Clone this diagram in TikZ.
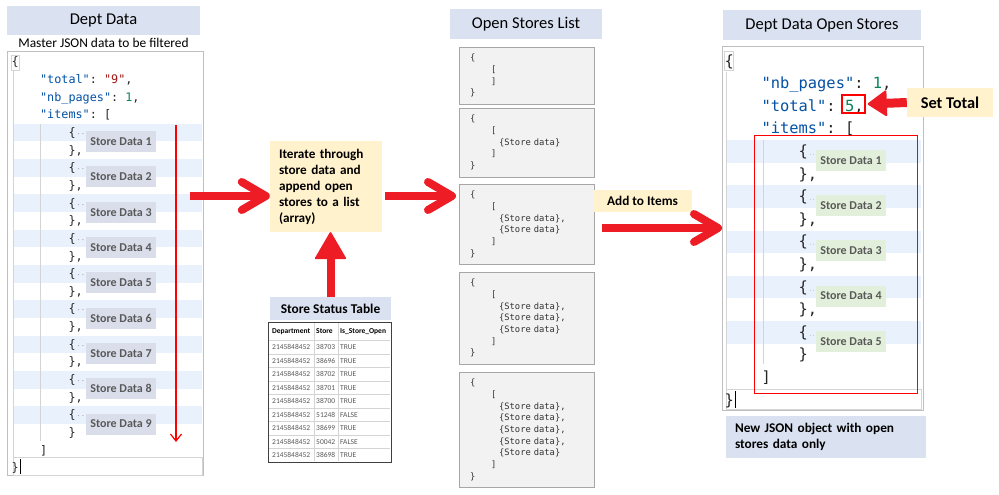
\documentclass[tikz,border=0pt]{standalone}
\usepackage{fontspec}
\setmainfont{Carlito}
\setmonofont{DejaVu Sans Mono}
\usetikzlibrary{arrows.meta, positioning, calc}

\definecolor{hdrblue}{HTML}{DAE1F0}
\definecolor{notebeige}{HTML}{FFF2CC}
\definecolor{stripe}{HTML}{E9F1FC}
\definecolor{sdfill}{HTML}{D9DEEA}
\definecolor{sgfill}{HTML}{E2EFDA}
\definecolor{sdtext}{HTML}{595959}
\definecolor{boxfill}{HTML}{F2F2F2}
\definecolor{boxline}{HTML}{A6A6A6}
\definecolor{panelline}{HTML}{BFBFBF}
\definecolor{guideline}{HTML}{D4D4D4}
\definecolor{keyblue}{HTML}{0451A5}
\definecolor{strred}{HTML}{A31515}
\definecolor{numgreen}{HTML}{098658}
\definecolor{arrowred}{HTML}{EE1C25}
\definecolor{dotgray}{HTML}{9A9A9A}

\newcommand{\jk}[1]{\textcolor{keyblue}{"#1"}}
\newcommand{\cind}[1]{\hspace*{#1\fontcharwd\font`0}}
\newcommand{\fold}[1]{\kern1pt{\fontsize{#1}{#1}\selectfont\textcolor{dotgray}{··}}}
\newcommand{\lvA}{\hspace*{10.6pt}}
\newcommand{\lvB}{\hspace*{31.5pt}}
\newcommand{\sdata}{\hspace*{39.6pt}\{Store data\}}

\begin{document}
\begin{tikzpicture}[x=1pt, y=-1pt,
        hdr/.style={fill=hdrblue, inner sep=0pt, font=\fontsize{16.5}{18}\selectfont},
        tag/.style={fill=notebeige, inner sep=0pt, font=\fontsize{13.3}{16}\selectfont\bfseries},
        panel/.style={draw=panelline, line width=1.2pt, fill=white, inner sep=0pt, anchor=north west},
        json/.style={anchor=north west, inner sep=0pt, align=left, text=black!85},
        codebox/.style={draw=boxline, fill=boxfill, line width=1pt, anchor=north west,
                inner xsep=0pt, inner ysep=5pt, text width=135pt, align=left, text=black!80,
                font=\ttfamily\fontsize{8.8}{11.7}\selectfont},
        sdgray/.style={fill=sdfill, text=sdtext, inner sep=0pt, minimum width=70pt,
                minimum height=21pt, font=\fontsize{12}{12}\selectfont\bfseries},
        sdgreen/.style={sdgray, fill=sgfill},
        guide/.style={draw=guideline, line width=0.8pt},
        scan/.style={draw=red, line width=1.2pt, -{Straight Barb[length=7pt, width=11pt]}},
        bigarrow/.style={draw=arrowred, line width=8pt, -{Straight Barb[length=24pt, width=28pt, round]}},
        fatarrow/.style={draw=arrowred, line width=8pt,
                -{Triangle[length=28pt, width=32pt, line width=2pt, round]}},
        cell/.style={inner sep=0pt, anchor=west, font=\fontsize{7.5}{8}\selectfont, text=sdtext}
        ]
        \fill[white] (0,0) rectangle (999,495);
        \useasboundingbox (0,0) rectangle (999,495);

        % Dept Data
        \node[hdr, minimum width=193pt, minimum height=29pt] (depthdr) at (103.5,20.5) {Dept Data};
        \node[inner sep=0pt, font=\fontsize{13.4}{15}\selectfont] (deptsub) at (103.5,43)
                {Master JSON data to be filtered};
        \node[panel, minimum width=196pt, minimum height=424pt] (dept) at (7,51) {};
        \foreach \i in {1,...,9}
                \fill[stripe] (13,{62+17.65*(2*\i+2)-8.8}) rectangle (202,{62+17.65*(2*\i+2)+8.8});
        \draw[guide] (13,71) -- (13,457);
        \draw[guide] (40,124) -- (40,441);
        \draw[guide] (13,457) rectangle (202,475);
        \draw[guide] (11.5,55) rectangle (19,70);
        \node[json, font=\ttfamily\fontsize{11.8}{17.65}\selectfont] (deptjson) at (11.5,53.3) {\strut\{\\
                \cind{4}\jk{total}: \textcolor{strred}{"9"},\\
                \cind{4}\jk{nb\_pages}: \textcolor{numgreen}{1},\\
                \cind{4}\jk{items}: [\\
                \cind{8}\{\fold{7}\\ \cind{8}\},\\
                \cind{8}\{\fold{7}\\ \cind{8}\},\\
                \cind{8}\{\fold{7}\\ \cind{8}\},\\
                \cind{8}\{\fold{7}\\ \cind{8}\},\\
                \cind{8}\{\fold{7}\\ \cind{8}\},\\
                \cind{8}\{\fold{7}\\ \cind{8}\},\\
                \cind{8}\{\fold{7}\\ \cind{8}\},\\
                \cind{8}\{\fold{7}\\ \cind{8}\},\\
                \cind{8}\{\fold{7}\\ \cind{8}\}\\
                \cind{4}]\\
                \}\strut};
        \draw[black, line width=1pt] (20,459) -- (20,474);
        \foreach \i in {1,...,9}
                \node[sdgray] (sd\i) at (121,{62+17.65*(2*\i+2)+9}) {Store Data \i};
        \coordinate (scantop) at (176,125);
        \coordinate (scanend) at (176,442);
        \draw[scan] (scantop) -- (scanend);

        % Iterate step and status table
        \node[tag, text width=94pt, minimum height=91pt, inner xsep=9pt, align=left,
                font=\fontsize{13.2}{16}\selectfont\bfseries] (iter) at (326,186.5)
                {Iterate through\\store data and\\append open\\stores to a list\\(array)};
        \node[hdr, minimum width=121pt, minimum height=23pt,
                font=\fontsize{13.4}{15}\selectfont\bfseries] (sst) at (330.5,308.5) {Store Status Table};
        \node[draw=black!75, line width=1.2pt, minimum width=123pt, minimum height=140pt,
                inner sep=0pt, anchor=north west] (ssttab) at (268,322) {};
        \foreach \r in {0,...,8}
                \draw[guide, line width=0.6pt] (269,{340.5+13.5*\r}) -- (390,{340.5+13.5*\r});
        \draw[guide, line width=0.6pt] (314,323) -- (314,461);
        \draw[guide, line width=0.6pt] (338,323) -- (338,461);
        \node[cell, text=black, font=\fontsize{7.5}{8}\selectfont\bfseries] (hdep) at (272,331.5) {Department};
        \node[cell, text=black, font=\fontsize{7.5}{8}\selectfont\bfseries] (hsto) at (316,331.5) {Store};
        \node[cell, text=black, font=\fontsize{7.5}{8}\selectfont\bfseries] (hopn) at (340,331.5) {Is\_Store\_Open};
        \foreach \s/\o [count=\r] in {38703/TRUE, 38696/TRUE, 38702/TRUE, 38701/TRUE, 38700/TRUE,
                51248/FALSE, 38699/TRUE, 50042/FALSE, 38698/TRUE} {
                \node[cell] (dep\r) at (272,{333.75+13.5*\r}) {2145848452};
                \node[cell] (sto\r) at (316,{333.75+13.5*\r}) {\s};
                \node[cell] (opn\r) at (340,{333.75+13.5*\r}) {\o};
            }

        % Open Stores List
        \node[hdr, minimum width=152pt, minimum height=30pt] (openhdr) at (526,24) {Open Stores List};
        \node[codebox] (box1) at (459,47) {\strut\lvA\{\\\lvB[\\\lvB]\\\lvA\}\strut};
        \node[codebox] (box2) at (459,108) {\strut\lvA\{\\\lvB[\\\sdata\\\lvB]\\\lvA\}\strut};
        \node[codebox] (box3) at (459,184) {\strut\lvA\{\\\lvB[\\\sdata,\\\sdata\\\lvB]\\\lvA\}\strut};
        \node[codebox] (box4) at (459,272) {\strut\lvA\{\\\lvB[\\\sdata,\\\sdata,\\\sdata\\\lvB]\\\lvA\}\strut};
        \node[codebox] (box5) at (459,372) {\strut\lvA\{\\\lvB[\\\sdata,\\\sdata,\\\sdata,\\\sdata,\\\sdata\\\lvB]\\\lvA\}\strut};
        \node[tag, minimum width=99pt, minimum height=22pt] (additems) at (642.5,201) {Add to Items};

        % Dept Data Open Stores
        \node[hdr, minimum width=198pt, minimum height=30pt] (outhdr) at (822,25) {Dept Data Open Stores};
        \node[panel, minimum width=201pt, minimum height=364pt] (out) at (722,46) {};
        \foreach \i in {1,...,5}
                \fill[stripe] (726,{61+22.6*(2*\i+2)-11.3}) rectangle (921,{61+22.6*(2*\i+2)+11.3});
        \draw[guide] (726,72) -- (726,389);
        \draw[guide] (763,140) -- (763,364);
        \draw[guide] (726,389) rectangle (921,409);
        \draw[guide] (724.5,51) rectangle (733,70);
        \node[json, font=\ttfamily\fontsize{15.4}{22.6}\selectfont] (outjson) at (724.3,50) {\strut\{\\
                \cind{4}\jk{nb\_pages}: \textcolor{numgreen}{1},\\
                \cind{4}\jk{total}: \textcolor{numgreen}{5},\\
                \cind{4}\jk{items}: [\\
                \cind{8}\{\fold{5}\\ \cind{8}\},\\
                \cind{8}\{\fold{5}\\ \cind{8}\},\\
                \cind{8}\{\fold{5}\\ \cind{8}\},\\
                \cind{8}\{\fold{5}\\ \cind{8}\},\\
                \cind{8}\{\fold{5}\\ \cind{8}\}\\
                \cind{4}]\\
                \}\strut};
        \draw[black, line width=1pt] (735,391) -- (735,408);
        \foreach \i in {1,...,5}
                \node[sdgreen] (sg\i) at (851,{61+22.6*(2*\i+2)+9}) {Store Data \i};
        \node[draw=red, line width=1.3pt, minimum width=23pt, minimum height=18pt, inner sep=0pt]
                (tot) at (853.5,104) {};
        \node[draw=red, line width=1.3pt, minimum width=163pt, minimum height=258pt, inner sep=0pt,
                anchor=north west] (itemsbox) at (754,135) {};
        \node[tag, minimum width=86pt, minimum height=29pt, font=\fontsize{16.4}{18}\selectfont\bfseries]
                (settot) at (950,102.5) {Set Total};
        \node[hdr, text width=182pt, inner xsep=9pt, minimum height=42pt, align=left,
                font=\fontsize{13.3}{16.5}\selectfont\bfseries] (newjson) at (826,437)
                {New JSON object with open\\stores data only};

        % Arrows
        \coordinate (a1) at (190,196);
        \draw[bigarrow] (a1) -- (a1 -| iter.west);
        \draw[bigarrow] ($(iter.east |- a1)+(3,0)$) -- ($(box3.west |- a1)+(-3,0)$);
        \draw[fatarrow] (sst.north) -- (sst.north |- iter.south);
        \coordinate (a4) at (602,228);
        \draw[bigarrow] (a4) -- (a4 -| out.west);
        \draw[fatarrow, line width=9pt, -{Triangle[length=20pt, width=27pt, line width=2pt, round]}]
                (settot.west) -- ($(tot.east)+(2,0)$);
    \end{tikzpicture}
\end{document}
